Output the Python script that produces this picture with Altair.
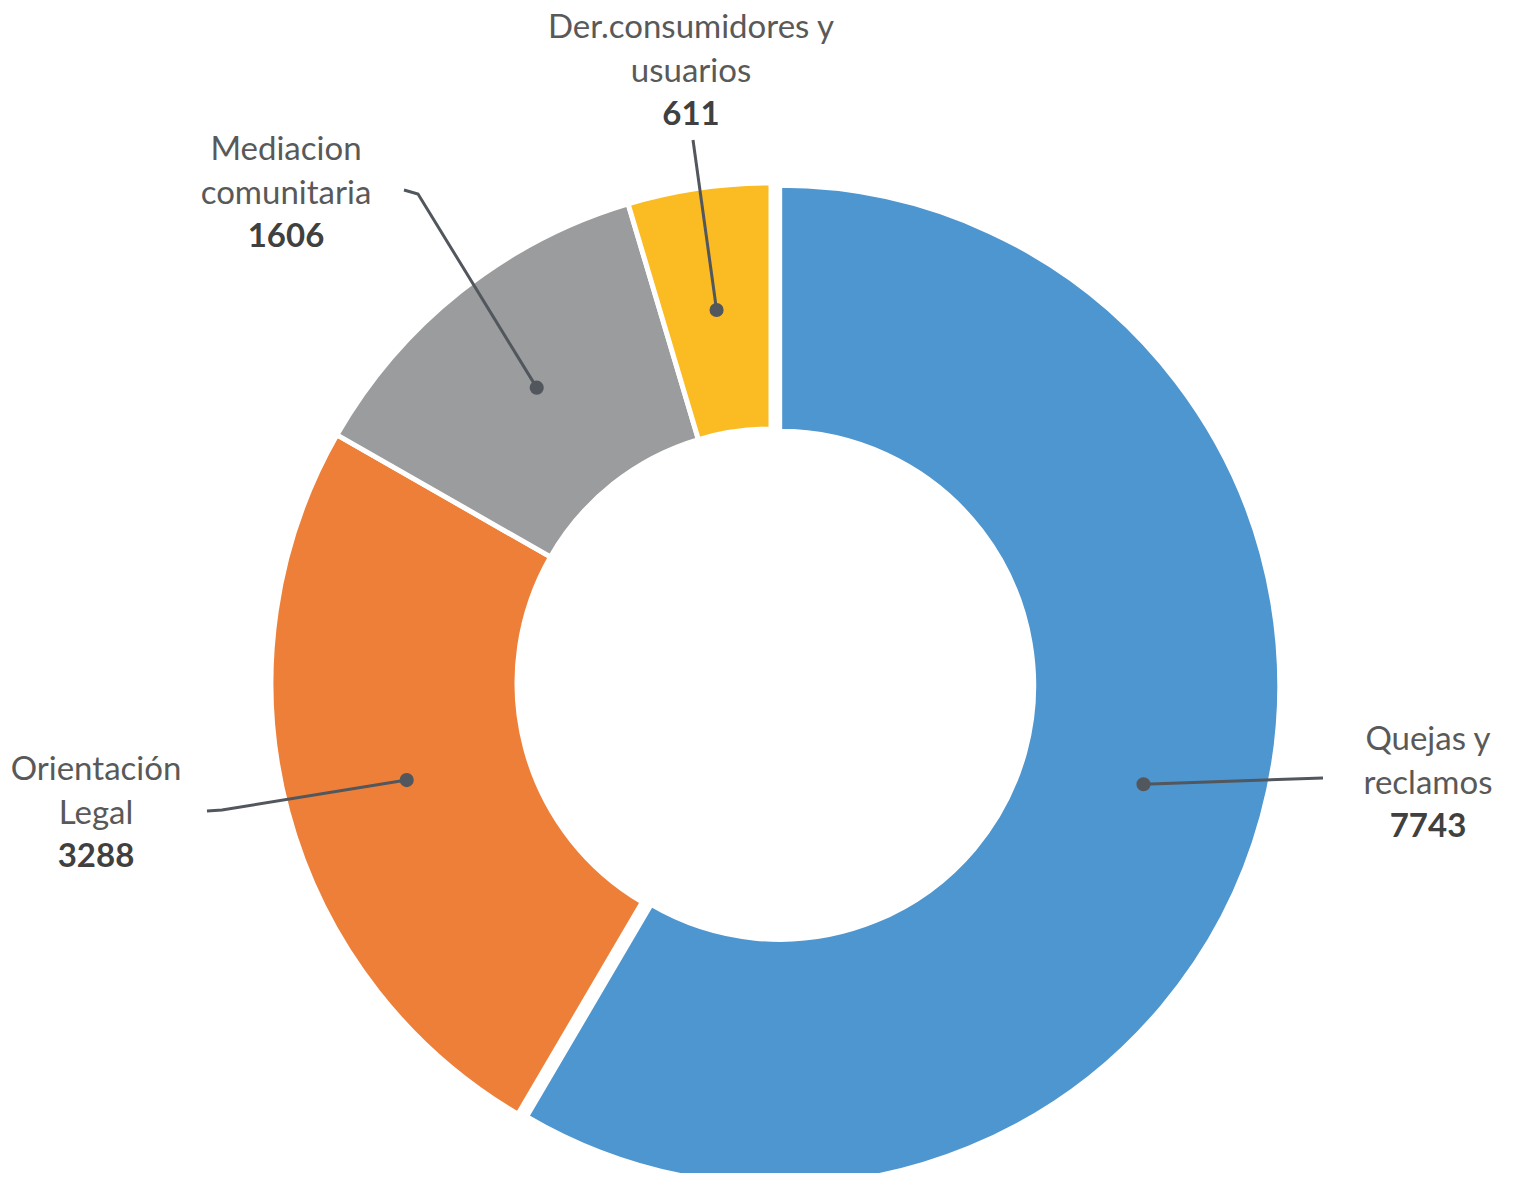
import math
import altair as alt
import pandas as pd

# ---------------- data ----------------
categories = ["Quejas y reclamos", "Orientación Legal", "Mediacion comunitaria", "Der.consumidores y usuarios"]
values = [7743, 3288, 1606, 611]
label_line1 = ["Quejas y", "Orientación", "Mediacion", "Der.consumidores y"]
label_line2 = ["reclamos", "Legal", "comunitaria", "usuarios"]
colors = ["#4E96D0", "#EE7F38", "#9A9C9D", "#FBBB22"]

# ---------------- layout (pixels inside the chart) ----------------
PAD_TOP = 8
W, H = 1495, 1157
CX, CY = 763, 675 - PAD_TOP
R_OUT, R_IN = 500, 254
EXPLODE = [9, 0, 0, 0]           # outward offset of each slice
label_x = [1420, 88, 278, 683]
label_y0 = [742 - PAD_TOP, 772 - PAD_TOP, 152 - PAD_TOP, 30 - PAD_TOP]   # baseline of first label line
LINE_GAP = 43.5
leader_pts = [[(1315, 770)], [(214, 802), (199, 803)], [(410, 186), (396, 182)], [(685, 132)]]
leader_pts = [[(px, py - PAD_TOP) for px, py in seg] for seg in leader_pts]
LINE_COLOR = "#52565D"
FONT = "Lato"
FS = 33

total = sum(values)
df = pd.DataFrame({"category": categories, "value": values, "order": list(range(len(values)))})

# slice mid angles & centres (derived from the data)
cum = 0
dots, lines, texts = [], [], []
for i, (c, v) in enumerate(zip(categories, values)):
    a = (cum + v / 2) / total * 2 * math.pi
    cum += v
    ox = EXPLODE[i] * math.sin(a)
    oy = -EXPLODE[i] * math.cos(a)
    rm = (R_OUT + R_IN) / 2
    dx = CX + ox + rm * math.sin(a)
    dy = CY + oy - rm * math.cos(a)
    dots.append({"category": c, "x": dx, "y": dy})
    pts = [(dx, dy)] + leader_pts[i]
    for k, (px, py) in enumerate(pts):
        lines.append({"category": c, "seq": k, "x": px, "y": py})
    texts.append({"t": label_line1[i], "x": label_x[i], "y": label_y0[i], "bold": 0})
    texts.append({"t": label_line2[i], "x": label_x[i], "y": label_y0[i] + LINE_GAP, "bold": 0})
    texts.append({"t": str(v), "x": label_x[i], "y": label_y0[i] + 2 * LINE_GAP, "bold": 1})

df_dots = pd.DataFrame(dots)
df_lines = pd.DataFrame(lines)
df_text = pd.DataFrame(texts)

blue_ox = EXPLODE[0] * math.sin(values[0] / 2 / total * 2 * math.pi)
blue_oy = -EXPLODE[0] * math.cos(values[0] / 2 / total * 2 * math.pi)

color_scale = alt.Scale(domain=categories, range=colors)
xs = alt.Scale(domain=[0, W], nice=False, zero=False)
ys = alt.Scale(domain=[H, 0], nice=False, zero=False)

arc_base = alt.Chart(df).mark_arc(outerRadius=R_OUT, innerRadius=R_IN, stroke="white", strokeWidth=5).encode(
    theta=alt.Theta("value:Q", stack=True),
    order=alt.Order("order:Q"),
    color=alt.Color("category:N", scale=color_scale, legend=None),
)
arcs_rest = arc_base.encode(
    x=alt.value(CX), y=alt.value(CY),
    opacity=alt.condition(alt.datum.order == 0, alt.value(0), alt.value(1)),
)
arcs_blue = arc_base.encode(
    x=alt.value(CX + blue_ox), y=alt.value(CY + blue_oy),
    opacity=alt.condition(alt.datum.order == 0, alt.value(1), alt.value(0)),
)

leader = alt.Chart(df_lines).mark_line(color=LINE_COLOR, strokeWidth=3).encode(
    x=alt.X("x:Q", scale=xs, axis=None),
    y=alt.Y("y:Q", scale=ys, axis=None),
    detail="category:N",
    order="seq:Q",
)
dot = alt.Chart(df_dots).mark_circle(size=200, color=LINE_COLOR, opacity=1).encode(
    x=alt.X("x:Q", scale=xs, axis=None),
    y=alt.Y("y:Q", scale=ys, axis=None),
)
txt_reg = alt.Chart(df_text).transform_filter(alt.datum.bold == 0).mark_text(
    align="center", baseline="alphabetic", font=FONT, fontSize=FS, color="#595959"
).encode(
    x=alt.X("x:Q", scale=xs, axis=None),
    y=alt.Y("y:Q", scale=ys, axis=None),
    text="t:N",
)
txt_bold = alt.Chart(df_text).transform_filter(alt.datum.bold == 1).mark_text(
    align="center", baseline="alphabetic", font=FONT, fontSize=FS, fontWeight="bold", color="#404040"
).encode(
    x=alt.X("x:Q", scale=xs, axis=None),
    y=alt.Y("y:Q", scale=ys, axis=None),
    text="t:N",
)

chart = alt.layer(arcs_rest, arcs_blue, leader, dot, txt_reg, txt_bold).properties(
    width=W, height=H,
    padding={"top": PAD_TOP, "left": 0, "right": 0, "bottom": 0},
    autosize=alt.AutoSizeParams(type="none"), background="white"
).configure_view(stroke=None)

chart.save("out.html", embed_options={"renderer": "svg", "actions": False})
